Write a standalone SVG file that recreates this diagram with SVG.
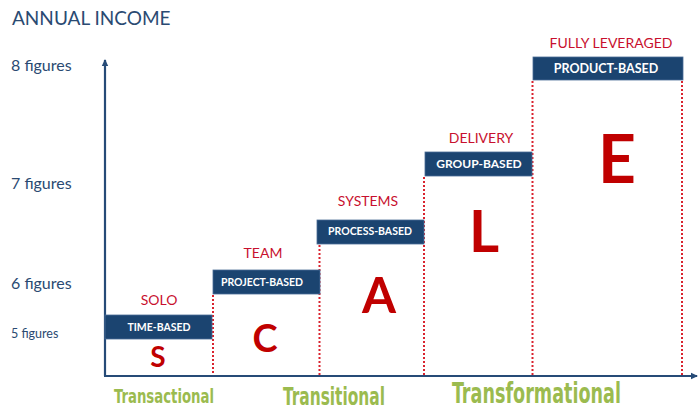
<svg xmlns="http://www.w3.org/2000/svg" width="700" height="415" viewBox="0 0 700 415">
<style>
.ax{font-family:Lato,"Open Sans",sans-serif;fill:#2a4a72}
.box{fill:#1b4470;stroke:#4a6d96;stroke-width:0.8}
.bt{font-family:Lato,"Open Sans",sans-serif;font-weight:bold;fill:#ffffff;text-anchor:middle}
.rl{font-family:Lato,"Open Sans",sans-serif;fill:#c8102e;text-anchor:middle;font-size:14px}
.big{font-family:Lato,"Open Sans",sans-serif;font-weight:bold;fill:#c00000;text-anchor:middle}
.dot{stroke:#d9232e;stroke-width:2;stroke-dasharray:2 2;fill:none}
.axis{stroke:#264b77;stroke-width:2.2;fill:none}
.gr{font-family:"DejaVu Sans Condensed","Liberation Sans",sans-serif;fill:#9bbb4f;font-weight:bold}
</style>
<defs>
<marker id="ah" markerWidth="8" markerHeight="8" refX="6" refY="4" orient="auto" markerUnits="userSpaceOnUse">
<path d="M0,0.8 L7,4 L0,7.2 Z" fill="#264b77"/>
</marker>
</defs>
<rect width="700" height="415" fill="#ffffff"/>
<text class="ax" x="12" y="25" font-size="19">ANNUAL INCOME</text>
<text class="ax" x="11" y="71" font-size="16">8 figures</text>
<text class="ax" x="11" y="189" font-size="16">7 figures</text>
<text class="ax" x="11" y="289" font-size="16">6 figures</text>
<text class="ax" x="11" y="338" font-size="12.5">5 figures</text>

<g id="connectors">
<line class="axis" x1="105" y1="376" x2="105" y2="60" marker-end="url(#ah)"/>
<line class="axis" x1="104" y1="376" x2="697" y2="376" marker-end="url(#ah)"/>
<line class="dot" x1="213" y1="295" x2="213" y2="375"/>
<line class="dot" x1="319.5" y1="245" x2="319.5" y2="375"/>
<line class="dot" x1="424" y1="177" x2="424" y2="375"/>
<line class="dot" x1="532.5" y1="81" x2="532.5" y2="375"/>
<line class="dot" x1="682" y1="81" x2="682" y2="375"/>
</g>

<g id="solo">
<text class="rl" x="159" y="305">SOLO</text>
<rect class="box" x="105" y="315" width="107" height="24"/>
<text class="bt" x="159" y="331" font-size="10.5">TIME-BASED</text>
<text class="big" x="158" y="367" font-size="28">S</text>
</g>
<g id="team">
<text class="rl" x="263" y="258">TEAM</text>
<rect class="box" x="213" y="270" width="107" height="24"/>
<text class="bt" x="262" y="286" font-size="10.5">PROJECT-BASED</text>
<text class="big" x="265" y="352" font-size="38">C</text>
</g>
<g id="systems">
<text class="rl" x="368" y="206">SYSTEMS</text>
<rect class="box" x="317" y="220" width="107" height="24"/>
<text class="bt" x="370" y="235" font-size="10.5">PROCESS-BASED</text>
<text class="big" x="379" y="313" font-size="49">A</text>
</g>
<g id="delivery">
<text class="rl" x="481" y="143">DELIVERY</text>
<rect class="box" x="425" y="152" width="107" height="24"/>
<text class="bt" x="479" y="168" font-size="12">GROUP-BASED</text>
<text class="big" x="484" y="252" font-size="58">L</text>
</g>
<g id="fully-leveraged">
<text class="rl" x="611" y="48">FULLY LEVERAGED</text>
<rect class="box" x="533" y="57" width="150" height="23"/>
<text class="bt" x="606" y="73" font-size="12.5">PRODUCT-BASED</text>
<text class="big" x="617" y="183" font-size="66">E</text>
</g>

<text class="gr" x="114" y="403" font-size="20" textLength="100" lengthAdjust="spacingAndGlyphs">Transactional</text>
<text class="gr" x="283" y="405" font-size="25" textLength="102" lengthAdjust="spacingAndGlyphs">Transitional</text>
<text class="gr" x="452" y="403" font-size="28" textLength="169" lengthAdjust="spacingAndGlyphs">Transformational</text>
</svg>
